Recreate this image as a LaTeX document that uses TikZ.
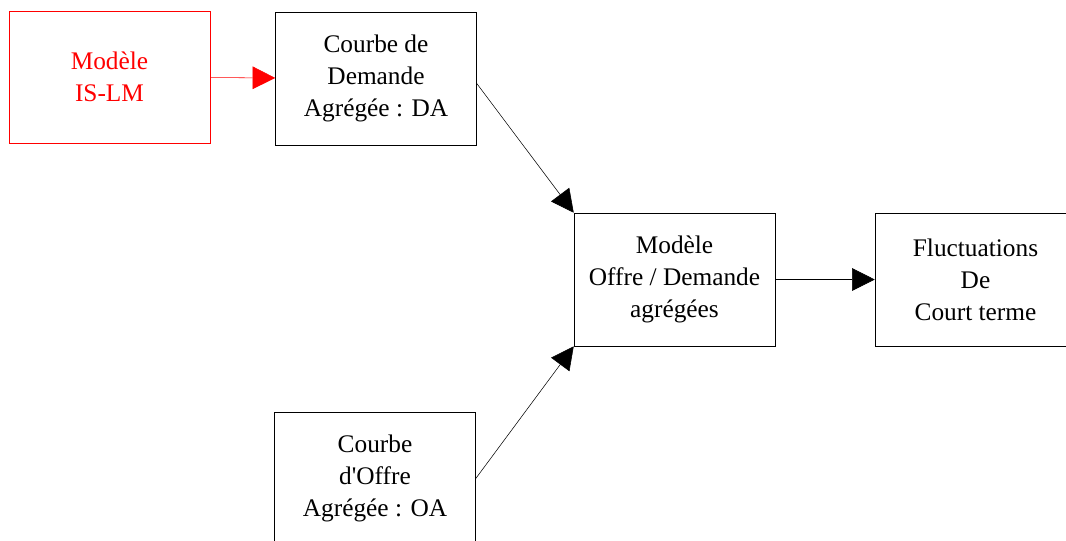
\documentclass[tikz,border=0pt]{standalone}
\usepackage{fontspec}
\setmainfont{Liberation Serif}
\usetikzlibrary{arrows.meta,positioning}
\tikzset{
    -{Triangle[length=17pt,width=17pt]},auto,line width=0.8pt,
    box/.style ={rectangle, draw, minimum width = 150.75pt, minimum height = 99.75pt, inner sep=0pt, align=center, font=\fontsize{19}{24}\selectfont},
    redbox/.style = {box, draw=red, text=red, minimum height = 99pt}
}

\begin{document}
\begin{tikzpicture}[x=0.75pt,y=-0.75pt]
	\clip (0,0) rectangle (1066,540);
 	\node (1) [redbox] at (109.5,77) {Modèle\\IS-LM};
 	\node (2) [box] at (376,78.5) {Courbe de\\Demande\\Agrégée : DA};
 	\node (3) [box] at (674.5,279.5) {Modèle\\Offre / Demande\\agrégées};
 	\node (4) [box] at (975.5,279.5) {Fluctuations\\De\\Court terme};
 	\node (5) [box] at (375,478.5) {Courbe\\d\textquotesingle Offre\\Agrégée : OA};
	
	\path[red] (1) edge (2);
	\path ([yshift=-3.75pt]2.east) edge (3.north west);
	\path (5.east) edge (3.south west);
	\path (3) edge (4);
\end{tikzpicture}
\end{document}
